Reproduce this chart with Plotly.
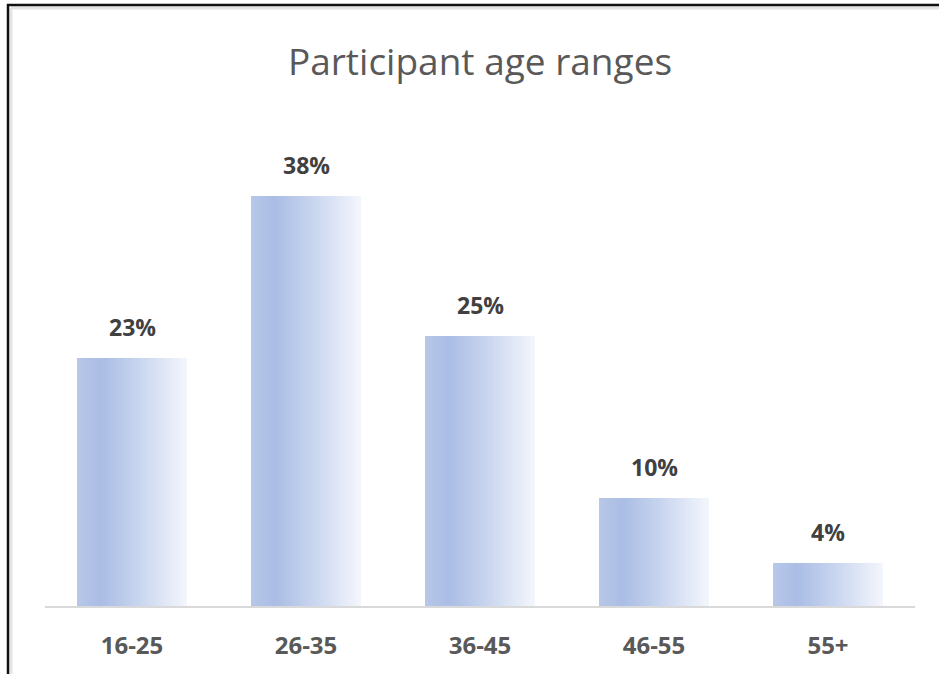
import plotly.graph_objects as go

# Share of participants per age range (percent)
age_ranges = ["16-25", "26-35", "36-45", "46-55", "55+"]
share_pct = [23, 38, 25, 10, 4]
pct_labels = [f"{v}%" for v in share_pct]

# Figure geometry (pixels)
W, H = 939, 674
M_L, M_R, M_T, M_B = 45, 24, 100, 68
PLOT_W = W - M_L - M_R
PLOT_H = H - M_T - M_B
Y_MAX = 46.9

# Bars are drawn as thin vertical slices to get a left-to-right colour fade
BAR_WIDTH = 0.632
N_SLICES = 55
GRADIENT_STOPS = [
    (0.00, (183, 199, 232)),
    (0.22, (170, 189, 228)),
    (0.55, (199, 212, 238)),
    (1.00, (244, 246, 252)),
]


def gradient_color(t):
    for (t0, c0), (t1, c1) in zip(GRADIENT_STOPS[:-1], GRADIENT_STOPS[1:]):
        if t <= t1:
            f = (t - t0) / (t1 - t0) if t1 > t0 else 0
            r, g, b = (round(a + (bb - a) * f) for a, bb in zip(c0, c1))
            return f"rgb({r},{g},{b})"
    r, g, b = GRADIENT_STOPS[-1][1]
    return f"rgb({r},{g},{b})"


fig = go.Figure()
slice_w = BAR_WIDTH / N_SLICES
for i in range(N_SLICES):
    fig.add_trace(go.Bar(
        x=age_ranges,
        y=share_pct,
        width=slice_w,
        offset=-BAR_WIDTH / 2 + i * slice_w,
        marker=dict(color=gradient_color((i + 0.5) / N_SLICES), line=dict(width=0)),
        hoverinfo="skip" if i else "x+y",
        showlegend=False,
    ))

# Percentage labels above each bar
for cat, val, lab in zip(age_ranges, share_pct, pct_labels):
    fig.add_annotation(
        x=cat, y=val, text=lab, showarrow=False,
        xref="x", yref="y", yanchor="bottom", yshift=13,
        font=dict(family="Open Sans", size=23, color="#404040", weight="bold"),
    )


def px_to_paper_x(px):
    return (px - M_L) / PLOT_W


def px_to_paper_y(py):
    return (H - M_B - py) / PLOT_H


# Frame: dark rule on top/left with a soft grey inner edge
shapes = [
    dict(type="line", xref="paper", yref="paper",
         x0=px_to_paper_x(11), x1=px_to_paper_x(W + 5), y0=px_to_paper_y(8), y1=px_to_paper_y(8),
         line=dict(color="#e4e4e4", width=3)),
    dict(type="line", xref="paper", yref="paper",
         x0=px_to_paper_x(11), x1=px_to_paper_x(11), y0=px_to_paper_y(8), y1=px_to_paper_y(H + 5),
         line=dict(color="#e4e4e4", width=3)),
    dict(type="line", xref="paper", yref="paper",
         x0=px_to_paper_x(7), x1=px_to_paper_x(W + 5), y0=px_to_paper_y(5), y1=px_to_paper_y(5),
         line=dict(color="#111111", width=2.5)),
    dict(type="line", xref="paper", yref="paper",
         x0=px_to_paper_x(8), x1=px_to_paper_x(8), y0=px_to_paper_y(4), y1=px_to_paper_y(H + 5),
         line=dict(color="#111111", width=2.5)),
]

fig.update_layout(
    width=W, height=H,
    margin=dict(l=M_L, r=M_R, t=M_T, b=M_B, pad=0),
    barmode="overlay",
    bargap=0,
    plot_bgcolor="white",
    paper_bgcolor="white",
    title=dict(
        text="Participant age ranges",
        x=0.5, xref="paper", xanchor="center",
        y=1 - 62 / H, yref="container", yanchor="middle",
        font=dict(family="Open Sans", size=37, color="#595959"),
    ),
    xaxis=dict(
        type="category",
        categoryorder="array", categoryarray=age_ranges,
        showline=True, linecolor="#d9d9d9", linewidth=2,
        showgrid=False, zeroline=False, ticks="",
        ticklabelstandoff=17,
        tickfont=dict(family="Open Sans", size=24, color="#595959", weight="bold"),
        fixedrange=True,
    ),
    yaxis=dict(visible=False, range=[0, Y_MAX], showgrid=False, zeroline=False, fixedrange=True),
    shapes=shapes,
)

fig.write_html("out.html")
